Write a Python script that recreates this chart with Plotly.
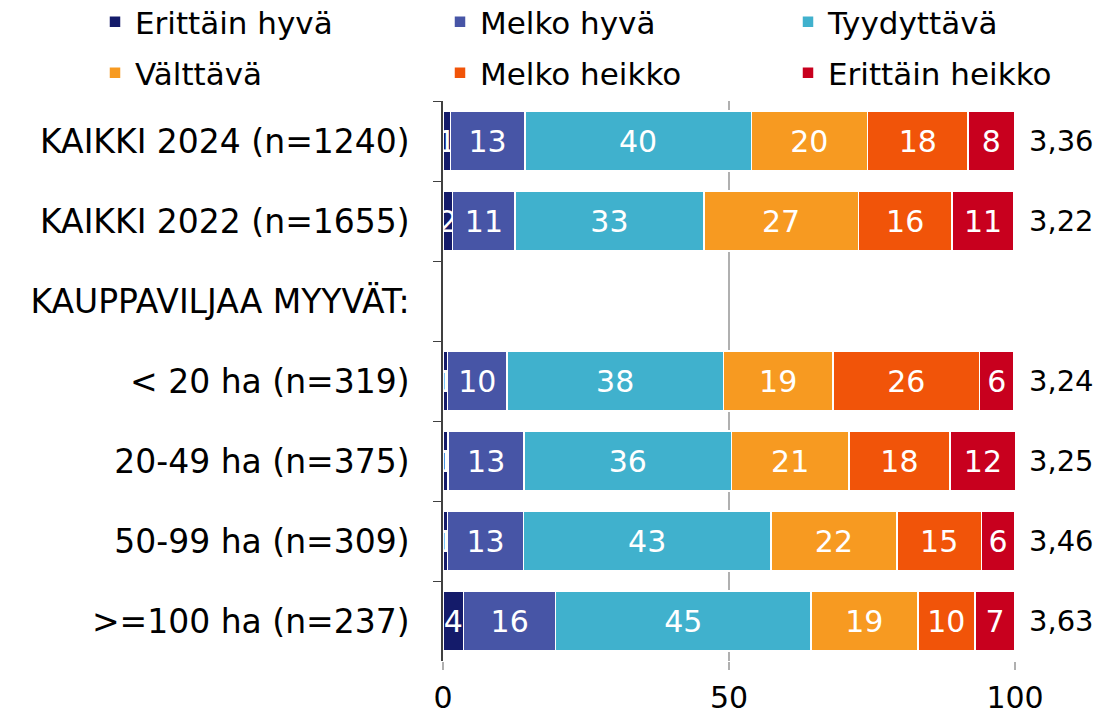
import plotly.graph_objects as go

categories = ["KAIKKI 2024 (n=1240)", "KAIKKI 2022 (n=1655)", "KAUPPAVILJAA MYYVÄT:",
              "< 20 ha (n=319)", "20-49 ha (n=375)", "50-99 ha (n=309)", ">=100 ha (n=237)"]
series_names = ["Erittäin hyvä", "Melko hyvä", "Tyydyttävä", "Välttävä", "Melko heikko", "Erittäin heikko"]
erittain_hyva = [1.3, 1.7, None, 0.8, 0.9, 0.8, 3.6]
melko_hyva = [13.0, 10.9, None, 10.4, 13.3, 13.3, 16.1]
tyydyttava = [39.6, 33.0, None, 37.8, 36.2, 43.2, 44.6]
valttava = [20.3, 27.0, None, 19.2, 20.6, 22.1, 18.7]
melko_heikko = [17.6, 16.4, None, 25.6, 17.6, 14.7, 10.0]
erittain_heikko = [8.1, 10.8, None, 6.0, 11.6, 5.9, 7.0]
means = [3.36, 3.22, None, 3.24, 3.25, 3.46, 3.63]
x_ticks = [0, 50, 100]

colors = ["#141B6A", "#4755A6", "#40B1CD", "#F79A21", "#F15409", "#C8001E"]
values = [erittain_hyva, melko_hyva, tyydyttava, valttava, melko_heikko, erittain_heikko]

FONT = "DejaVu Sans"
W, H = 1093, 705  # page body has an 8px margin
legend_ids = ["legend", "legend2", "legend3", "legend4", "legend5", "legend6"]

fig = go.Figure()
for i, (name, vals, col) in enumerate(zip(series_names, values, colors)):
    fig.add_trace(go.Bar(
        y=categories, x=vals, name=name, orientation="h",
        marker=dict(color=col, line=dict(color="white", width=1.5)),
        texttemplate="%{x:.0f}", textposition="inside", insidetextanchor="middle",
        textangle=0, textfont=dict(color="white", size=30, family=FONT),
        legend=legend_ids[i],
        hoverinfo="skip",
    ))

for cat, m in zip(categories, means):
    if m is None:
        continue
    fig.add_annotation(x=100, y=cat, xref="x", yref="y", text=f"{m:.2f}".replace(".", ","),
                       showarrow=False, xanchor="left", xshift=12,
                       font=dict(size=29, color="black", family=FONT))

legend_common = dict(orientation="h", xref="container", yref="container", xanchor="left",
                     yanchor="middle", font=dict(size=31, color="black", family=FONT),
                     bgcolor="rgba(0,0,0,0)", itemwidth=30)
legend_x = [87, 432, 780, 87, 432, 780]
legend_y = [14, 14, 14, 65, 65, 65]
legend_layout = {}
for lid, lx, ly in zip(legend_ids, legend_x, legend_y):
    legend_layout[lid] = dict(x=lx / W, y=1 - ly / H, **legend_common)

fig.update_layout(
    width=W, height=H,
    barmode="stack", bargap=0.25,
    margin=dict(l=435, r=W - 435 - 572, t=93, b=H - 93 - 560, autoexpand=False),
    plot_bgcolor="white", paper_bgcolor="white",
    font=dict(family=FONT, size=30, color="black"),
    uniformtext=dict(minsize=29, mode="show"),
    showlegend=True,
    **legend_layout,
)
fig.update_yaxes(type="category", categoryorder="array", categoryarray=categories,
                 autorange="reversed", showline=True, linecolor="#404040", linewidth=1.5,
                 ticks="outside", tickson="boundaries", ticklen=8, tickcolor="#404040",
                 showgrid=False, ticklabelstandoff=25,
                 tickfont=dict(size=33, color="black", family=FONT))
fig.update_xaxes(range=[0, 100], tickvals=x_ticks, showgrid=True, gridcolor="#b0b0b0",
                 gridwidth=1.5, zeroline=False, showline=False, ticks="outside", ticklen=8,
                 tickcolor="#b0b0b0", tickwidth=1.5, ticklabelstandoff=2,
                 tickfont=dict(size=30, color="black", family=FONT))

fig.write_html("out.html")
